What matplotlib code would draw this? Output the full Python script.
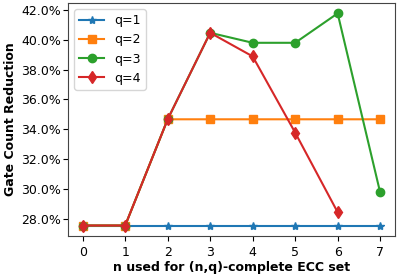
import matplotlib.pyplot as plt
from matplotlib.ticker import PercentFormatter

plt.rcParams['font.size'] = 9

n_values = [0, 1, 2, 3, 4, 5, 6, 7]
q1 = [27.56, 27.56, 27.56, 27.56, 27.56, 27.56, 27.56, 27.56]
q2 = [27.56, 27.56, 34.67, 34.67, 34.67, 34.67, 34.67, 34.67]
q3 = [27.56, 27.56, 34.67, 40.46, 39.79, 39.79, 41.76, 29.78]
q4_n = [0, 1, 2, 3, 4, 5, 6]
q4 = [27.56, 27.56, 34.67, 40.46, 38.88, 33.78, 28.45]

fig, ax = plt.subplots(figsize=(3.99, 2.76), dpi=100)
ax.plot(n_values, q1, marker='*', label='q=1')
ax.plot(n_values, q2, marker='s', label='q=2')
ax.plot(n_values, q3, marker='o', label='q=3')
ax.plot(q4_n, q4, marker='d', label='q=4')

ax.set_yticks([28, 30, 32, 34, 36, 38, 40, 42])
ax.set_ylim(26.86, 42.47)
ax.yaxis.set_major_formatter(PercentFormatter(decimals=1))
ax.tick_params(axis='y', pad=1.5)
ax.set_xticks(n_values)
ax.set_xlabel('n used for (n,q)-complete ECC set', fontweight='bold', labelpad=2)
ax.set_ylabel('Gate Count Reduction', fontweight='bold', labelpad=3)
ax.legend(loc='upper left')
for s in ax.spines.values():
    s.set_color('#444444')

plt.subplots_adjust(left=0.17, right=0.99, top=0.99, bottom=0.145)
plt.savefig('out.png')
